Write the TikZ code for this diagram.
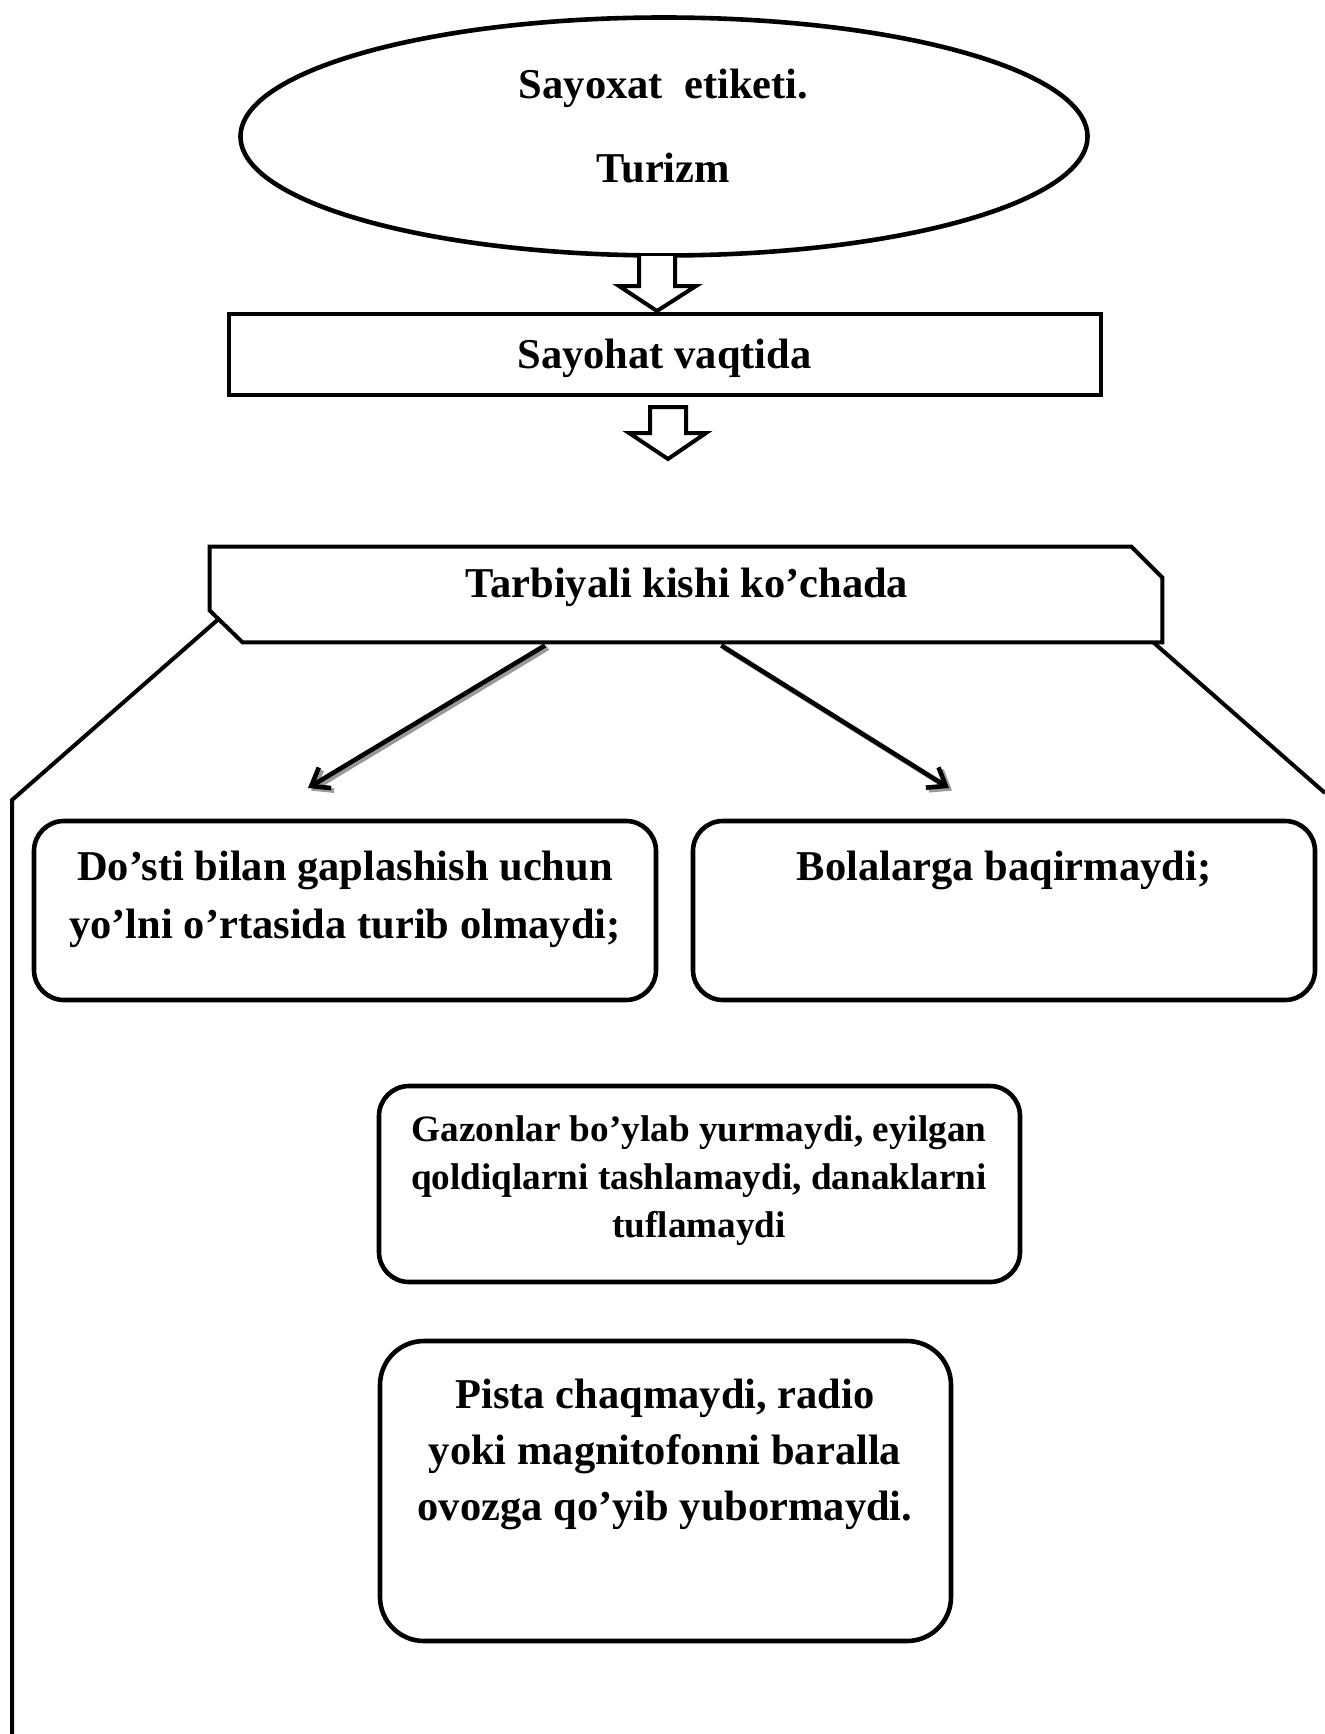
\documentclass[tikz,border=0pt]{standalone}
\usepackage{fontspec}
\setmainfont{Liberation Serif}
\usetikzlibrary{shapes.geometric, arrows.meta, calc}
\begin{document}
\begin{tikzpicture}[x=0.5pt, y=-0.5pt,
  mainfont/.style={font=\bfseries\fontsize{21.25pt}{26pt}\selectfont},
  txt/.style={anchor=base, inner sep=0pt, mainfont},
  smalltxt/.style={anchor=base, inner sep=0pt, font=\bfseries\fontsize{18.6pt}{22pt}\selectfont},
  plainbox/.style={draw, line width=2pt, inner sep=0pt},
  rbox/.style={draw, line width=2.3pt, inner sep=0pt, rounded corners=15pt},
  blk/.style={draw, fill=white, line width=2pt, line join=miter},
  conn/.style={line width=2.3pt, -{Straight Barb[length=8pt,width=12pt]}},
  shadowconn/.style={conn, draw=black!40, transform canvas={xshift=1.5pt, yshift=-1.3pt}},
  outline/.style={line width=2pt}
]
\useasboundingbox (0,0) rectangle (1325,1734);

% nodes
\node[ellipse, draw, line width=2.3pt, fill=white, minimum width=423.5pt, minimum height=119pt, inner sep=0pt] (top) at (664,136.5) {};
\node[plainbox, minimum width=436pt, minimum height=40.5pt] (b1) at (665,354.5) {};
\node[inner sep=0pt, minimum width=476pt, minimum height=47.5pt] (hdr) at (686,594.5) {};
\node[rbox, minimum width=311pt, minimum height=89.5pt] (lb) at (345,910.5) {};
\node[rbox, minimum width=311pt, minimum height=89.5pt] (rb) at (1004,910.5) {};
\node[rbox, minimum width=320.5pt, minimum height=98pt] (gb) at (699.5,1184) {};
\node[rbox, rounded corners=22pt, minimum width=285.5pt, minimum height=150pt] (pb) at (665.5,1491) {};

% outer frame lines
\coordinate (lo1) at (12,800);
\coordinate (lo2) at (12,1734);
\coordinate (ro1) at (1325,793);
\draw[outline] ($(hdr.south west)+(9,-23.4)$) -- (lo1) -- (lo2);
\draw[outline] ($(hdr.south east)+(-9,0)$) -- (ro1);

% header polygon
\draw[outline, line join=miter, fill=white] (hdr.north west) -- ([xshift=-15.5pt]hdr.north east) -- ([yshift=-15.5pt]hdr.north east) -- (hdr.south east) -- ([xshift=16.5pt]hdr.south west) -- ([yshift=16pt]hdr.south west) -- cycle;

% block arrows
\draw[blk] (639,256) -- (639,286) -- (619,286) -- (657,311) -- (696,286) -- (675,286) -- (675,256);
\draw[blk] (650,407) -- (650,433) -- (629,433) -- (668,459) -- (706,433) -- (686,433) -- (686,407) -- cycle;

% diagonal arrows
\coordinate (ltip) at (308,788);
\coordinate (rtip) at (949,788);
\draw[shadowconn] ($(hdr.south west)!0.352!(hdr.south east)+(0,3)$) -- (ltip);
\draw[shadowconn] ($(hdr.south west)!0.537!(hdr.south east)+(0,3)$) -- (rtip);
\draw[conn] ($(hdr.south west)!0.352!(hdr.south east)+(0,3)$) -- (ltip);
\draw[conn] ($(hdr.south west)!0.537!(hdr.south east)+(0,3)$) -- (rtip);

% texts
\node[txt] (t1) at (663.5,98) {Sayoxat~~etiketi.};
\node[txt] (t2) at (663.5,182) {Turizm};
\node[txt] (t3) at (664.5,368) {Sayohat vaqtida};
\node[txt] (t4) at (687,597) {Tarbiyali kishi ko’chada};
\node[txt] (t5) at (345,880) {Do’sti bilan gaplashish uchun};
\node[txt] (t6) at (345,938) {yo’lni o’rtasida turib olmaydi;};
\node[txt] (t7) at (1004,880) {Bolalarga baqirmaydi;};
\node[smalltxt] (t8) at (699,1141) {Gazonlar bo’ylab yurmaydi, eyilgan};
\node[smalltxt] (t9) at (699,1189) {qoldiqlarni tashlamaydi, danaklarni};
\node[smalltxt] (t10) at (699,1237) {tuflamaydi};
\node[txt] (t11) at (665,1408) {Pista chaqmaydi, radio};
\node[txt] (t12) at (665,1464) {yoki magnitofonni baralla};
\node[txt] (t13) at (665,1520) {ovozga qo’yib yubormaydi.};
\end{tikzpicture}
\end{document}
